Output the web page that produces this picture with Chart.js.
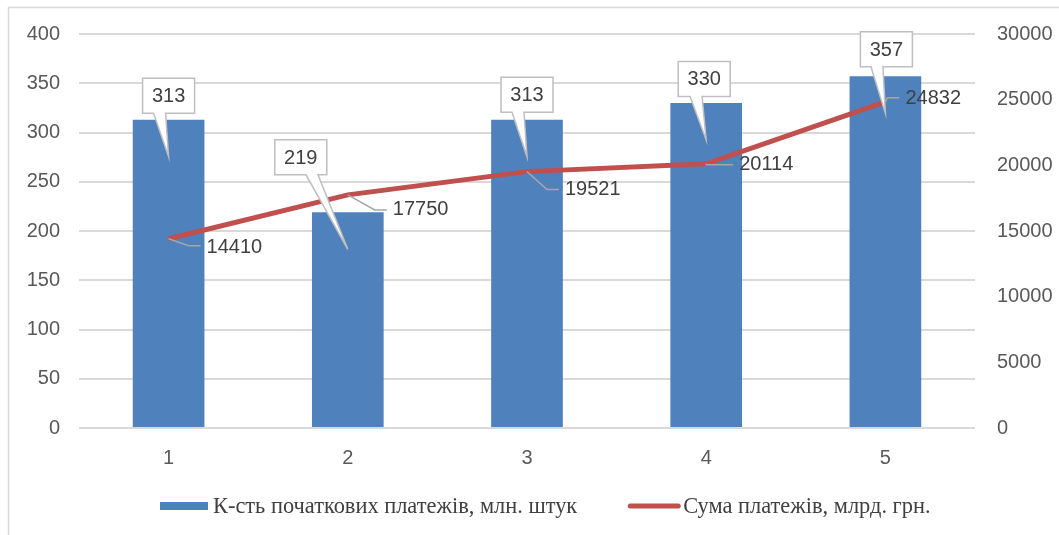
<!DOCTYPE html>
<html><head><meta charset="utf-8">
<script src="https://cdn.jsdelivr.net/npm/chart.js@4.4.0/dist/chart.umd.min.js"></script>
<style>html,body{margin:0;padding:0;background:#fff;} #wrap{width:1059px;height:535px;position:relative;}</style>
</head><body><div id="wrap"><canvas id="c" width="1059" height="535"></canvas></div>
<script>
// ---- data ----
const categories = ['1', '2', '3', '4', '5'];
const paymentsCount = [313, 219, 313, 330, 357];          // млн. штук (left axis)
const paymentsSum = [14410, 17750, 19521, 20114, 24832];  // млрд. грн. (right axis)
const seriesNames = ['К-сть початкових платежів, млн. штук', 'Сума платежів, млрд. грн.'];
const leftAxisRange = [0, 400, 50];
const rightAxisRange = [0, 30000, 5000];

// ---- label placement (style config) ----
const barCalloutOffsets = [[0, -24], [-47, -55], [0, -25], [-2, -24], [1, -27]];
const lineLabelOffsets = [[38, 9, 20, 7], [45, 15, 27, 15], [38, 18, 20, 18], [33, 1, 0, 1], [20, -3, 2, -4]];

const BLUE = '#4F81BD', RED = '#C0504D', GRID = '#d9d9d9', TXT = '#404040', TICK = '#595959';
const FONT = '"Liberation Sans", Arial, sans-serif';
const FSIZE = 20;

const decorations = {
  id: 'decorations',
  beforeDraw(chart) {
    const ctx = chart.ctx;
    ctx.save();
    ctx.strokeStyle = GRID; ctx.lineWidth = 1.5;
    ctx.beginPath();
    ctx.moveTo(8.5, 600); ctx.lineTo(8.5, 7.5); ctx.lineTo(1100, 7.5);
    ctx.stroke();
    ctx.restore();
  },
  afterDatasetsDraw(chart) {
    const ctx = chart.ctx;
    const barMeta = chart.getDatasetMeta(0);
    const lineMeta = chart.getDatasetMeta(1);
    ctx.save();
    ctx.font = FSIZE + 'px ' + FONT;
    // line labels with leader lines
    lineMeta.data.forEach((pt, i) => {
      const o = lineLabelOffsets[i];
      const tx = pt.x + o[0], ty = pt.y + o[1];
      ctx.strokeStyle = '#a6a6a6'; ctx.lineWidth = 1.5;
      ctx.beginPath();
      ctx.moveTo(pt.x, pt.y);
      ctx.lineTo(pt.x + o[2], pt.y + o[3]);
      ctx.lineTo(tx - 6, pt.y + o[3]);
      ctx.stroke();
      ctx.fillStyle = TXT; ctx.textAlign = 'left'; ctx.textBaseline = 'middle';
      ctx.fillText(String(paymentsSum[i]), tx, ty);
    });
    // bar callouts
    barMeta.data.forEach((bar, i) => {
      const o = barCalloutOffsets[i];
      const cx = bar.x + o[0], cy = bar.y + o[1];
      const w = 52, h = 35;
      const l = cx - w / 2, r = cx + w / 2, t = cy - h / 2, b = cy + h / 2;
      const tipX = bar.x, tipY = bar.y + 37;
      const bc = cx - 9 + 0.43 * (tipX - cx);
      ctx.beginPath();
      ctx.moveTo(l, t); ctx.lineTo(r, t); ctx.lineTo(r, b);
      ctx.lineTo(bc + 6, b); ctx.lineTo(tipX, tipY); ctx.lineTo(bc - 6, b);
      ctx.lineTo(l, b); ctx.closePath();
      ctx.fillStyle = '#fff'; ctx.fill();
      ctx.strokeStyle = '#bfbfbf'; ctx.lineWidth = 1.5; ctx.lineJoin = 'miter';
      ctx.stroke();
      ctx.fillStyle = TXT; ctx.textAlign = 'center'; ctx.textBaseline = 'middle';
      ctx.fillText(String(paymentsCount[i]), cx, cy + 1);
    });
    ctx.restore();
  },
  afterDraw(chart) {
    // legend
    const ctx = chart.ctx;
    const ds = chart.data.datasets;
    ctx.save();
    ctx.font = '22.4px "Liberation Serif", "Times New Roman", serif';
    ctx.textBaseline = 'middle'; ctx.textAlign = 'left';
    const y = 506;
    let x = 160;
    ctx.fillStyle = ds[0].backgroundColor;
    ctx.fillRect(x, y - 4, 48, 8);
    x += 53;
    ctx.fillStyle = TXT;
    ctx.fillText(ds[0].label, x, y + 1);
    x += ctx.measureText(ds[0].label).width + 51;
    ctx.strokeStyle = ds[1].borderColor; ctx.lineWidth = 5; ctx.lineCap = 'round';
    ctx.beginPath(); ctx.moveTo(x + 2, y); ctx.lineTo(x + 50, y); ctx.stroke();
    x += 55;
    ctx.fillText(ds[1].label, x, y + 1);
    ctx.restore();
  }
};

new Chart(document.getElementById('c'), {
  data: {
    labels: categories,
    datasets: [
      { type: 'bar', label: seriesNames[0], data: paymentsCount, yAxisID: 'y', backgroundColor: BLUE,
        barPercentage: 0.4, categoryPercentage: 1, order: 1 },
      { type: 'line', label: seriesNames[1], data: paymentsSum, yAxisID: 'y2', borderColor: RED, backgroundColor: RED,
        borderWidth: 5, pointRadius: 0, tension: 0, order: 0 }
    ]
  },
  options: {
    responsive: false, animation: false,
    layout: { padding: { top: 27, bottom: 55, left: 0, right: 0 } },
    plugins: { legend: { display: false }, tooltip: { enabled: false } },
    scales: {
      x: { offset: true, grid: { display: false }, border: { display: false },
        ticks: { color: TICK, font: { family: FONT, size: FSIZE }, padding: 10 } },
      y: { position: 'left', min: leftAxisRange[0], max: leftAxisRange[1],
        grid: { color: GRID, lineWidth: 2, drawTicks: false }, border: { display: false },
        ticks: { stepSize: leftAxisRange[2], color: TICK, font: { family: FONT, size: FSIZE }, padding: 19,
          callback: v => String(v) },
        afterFit: s => { s.width = 79; } },
      y2: { position: 'right', min: rightAxisRange[0], max: rightAxisRange[1],
        grid: { display: false, drawTicks: false }, border: { display: false },
        ticks: { stepSize: rightAxisRange[2], color: TICK, font: { family: FONT, size: FSIZE }, padding: 22,
          callback: v => String(v) },
        afterFit: s => { s.width = 84; } }
    }
  },
  plugins: [decorations]
});
</script></body></html>
